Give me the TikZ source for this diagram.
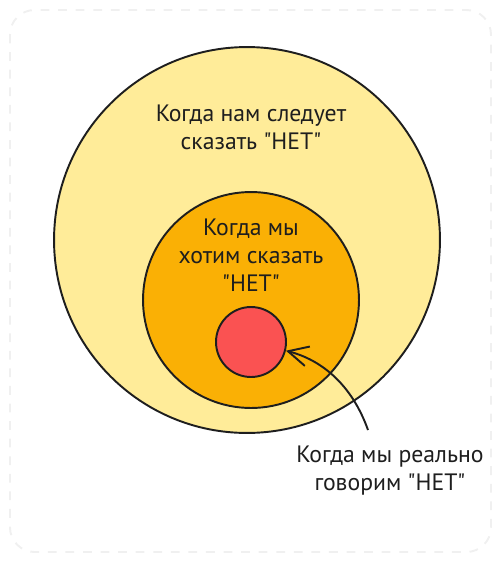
\documentclass[tikz,border=0pt]{standalone}
\usepackage{fontspec}
\setmainfont{PT Sans}[Ligatures=TeXOff]
\usetikzlibrary{arrows.meta}
\definecolor{ink}{HTML}{1E1E1E}
\definecolor{paleyellow}{HTML}{FFEC99}
\definecolor{amber}{HTML}{FAB005}
\definecolor{coral}{HTML}{FA5252}

\begin{document}
\begin{tikzpicture}[x=0.02cm,y=-0.02cm,
    ring/.style={circle,draw=ink,line width=1.1pt,inner sep=0pt},
    say/.style={align=center,text=ink,font=\fontsize{13.5}{16}\selectfont}]
  \useasboundingbox (0,0) rectangle (501,562);
  \draw[gray!12,line width=1.1pt,dash pattern=on 5pt off 5pt,rounded corners=14pt] (10,10) rectangle (491,552);
  \node[ring,fill=paleyellow,minimum size=7.72cm] (should) at (247,240) {};
  \node[ring,fill=amber,minimum size=4.32cm] (want) at (251,300) {};
  \node[ring,fill=coral,minimum size=1.4cm] (real) at (251,342) {};
  \node[say] (shouldtxt) at (251,127) {Когда нам следует\\сказать "НЕТ"};
  \node[say] (wanttxt) at (251,255) {Когда мы\\хотим сказать\\"НЕТ"};
  \node[say] (realtxt) at (390,471) {Когда мы реально\\говорим "НЕТ"};
  \coordinate (tail) at (368,430);
  \draw[ink,line width=1.1pt,-{Straight Barb[length=0.4cm,width=0.4cm]}] (tail) .. controls (352,385) and (322,360) .. (real.-14);
\end{tikzpicture}
\end{document}
